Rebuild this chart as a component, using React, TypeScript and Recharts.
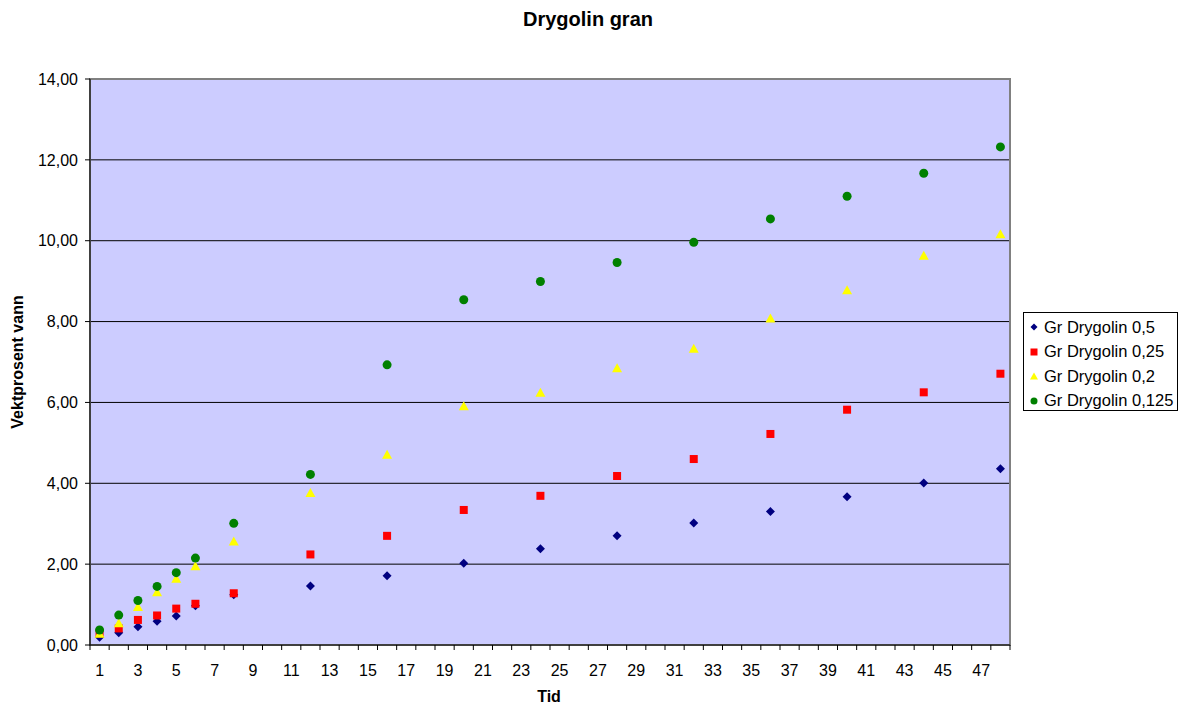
import React from 'react';
import { ScatterChart, Scatter, XAxis, YAxis, CartesianGrid, ReferenceArea } from 'recharts';

// Tid (x) and weight-percent water for each Drygolin concentration
const tid = [1, 2, 3, 4, 5, 6, 8, 12, 16, 20, 24, 28, 32, 36, 40, 44, 48];
const gr05 = [0.19, 0.30, 0.45, 0.59, 0.72, 0.97, 1.24, 1.46, 1.71, 2.02, 2.38, 2.70, 3.02, 3.30, 3.67, 4.01, 4.36];
const gr025 = [0.29, 0.41, 0.62, 0.73, 0.90, 1.02, 1.28, 2.24, 2.70, 3.34, 3.69, 4.18, 4.60, 5.22, 5.82, 6.25, 6.71];
const gr02 = [0.29, 0.55, 0.95, 1.32, 1.65, 1.96, 2.57, 3.77, 4.72, 5.92, 6.25, 6.86, 7.34, 8.09, 8.79, 9.64, 10.17];
const gr0125 = [0.37, 0.74, 1.10, 1.45, 1.79, 2.15, 3.01, 4.22, 6.93, 8.54, 8.99, 9.46, 9.96, 10.54, 11.10, 11.67, 12.32];

const seriesNames = ['Gr Drygolin 0,5', 'Gr Drygolin 0,25', 'Gr Drygolin 0,2', 'Gr Drygolin 0,125'];
const yTicks = [0, 2, 4, 6, 8, 10, 12, 14];
const categoryCount = 48;

const W = 1187;
const H = 709;
const margin = { top: 79, right: 177, bottom: 34, left: 0 };
const yAxisWidth = 90;
const xAxisHeight = 30;
const plotWidth = W - margin.left - margin.right - yAxisWidth;
const step = plotWidth / categoryCount;

const FONT = '"Liberation Sans", Arial, sans-serif';

const toPoints = (vals: number[]) => tid.map((t, i) => ({ x: t, y: vals[i] }));

const Diamond = ({ cx, cy, r = 4.5, fill = '#000080' }: any) => (
  <polygon points={`${cx},${cy - r} ${cx + r},${cy} ${cx},${cy + r} ${cx - r},${cy}`} fill={fill} />
);
const Square = ({ cx, cy, r = 4, fill = '#FF0000' }: any) => (
  <rect x={cx - r} y={cy - r} width={r * 2} height={r * 2} fill={fill} />
);
const Triangle = ({ cx, cy, r = 4.5, fill = '#FFFF00' }: any) => (
  <polygon points={`${cx},${cy - r} ${cx + r + 0.5},${cy + r} ${cx - r - 0.5},${cy + r}`} fill={fill} />
);
const Dot = ({ cx, cy, r = 4.5, fill = '#008000' }: any) => <circle cx={cx} cy={cy} r={r} fill={fill} />;

const series = [
  { name: seriesNames[0], data: toPoints(gr05), color: '#000080', Shape: Diamond },
  { name: seriesNames[1], data: toPoints(gr025), color: '#FF0000', Shape: Square },
  { name: seriesNames[2], data: toPoints(gr02), color: '#FFFF00', Shape: Triangle },
  { name: seriesNames[3], data: toPoints(gr0125), color: '#008000', Shape: Dot },
];

const xTicks = Array.from({ length: categoryCount }, (_, i) => i + 1);

// category axis look: tick marks between categories, label on every odd one
const XTick = (props: any) => {
  const { x, y, payload } = props;
  const v = payload.value;
  return (
    <g>
      <line x1={x - step / 2} x2={x - step / 2} y1={y} y2={y + 5} stroke="#000" />
      {v === categoryCount && <line x1={x + step / 2} x2={x + step / 2} y1={y} y2={y + 5} stroke="#000" />}
      {v % 2 === 1 && (
        <text x={x} y={y + 25} dy="0.35em" textAnchor="middle" fontSize={16} fontFamily={FONT} fill="#000">
          {v}
        </text>
      )}
    </g>
  );
};

const fmt = (v: number) => v.toFixed(2).replace('.', ',');

export default function App() {
  return (
    <div style={{ position: 'absolute', left: 0, top: 0, width: W, height: H, background: '#fff', fontFamily: FONT }}>
      <div style={{ position: 'absolute', left: 0, width: 1176, top: 8, textAlign: 'center', fontSize: 20, fontWeight: 'bold' }}>
        Drygolin gran
      </div>
      <div
        style={{
          position: 'absolute',
          left: 18,
          top: 362,
          transform: 'translate(-50%, -50%) rotate(-90deg)',
          whiteSpace: 'nowrap',
          fontSize: 16,
          fontWeight: 'bold',
        }}
      >
        Vektprosent vann
      </div>
      <div style={{ position: 'absolute', left: 549, top: 697, transform: 'translate(-50%, -50%)', fontSize: 16, fontWeight: 'bold' }}>
        Tid
      </div>

      <ScatterChart width={W} height={H} margin={margin} style={{ position: 'absolute', left: 0, top: 0 }}>
        <CartesianGrid fill="#CCCCFF" stroke="#000" vertical={false} horizontalValues={[2, 4, 6, 8, 10, 12]} />
        <ReferenceArea x1={0.5} x2={categoryCount + 0.5} y1={0} y2={14} fill="none" stroke="#808080" strokeWidth={2} />
        <XAxis
          type="number"
          dataKey="x"
          domain={[0.5, categoryCount + 0.5]}
          ticks={xTicks}
          interval={0}
          height={xAxisHeight}
          tickLine={false}
          tickSize={0}
          tickMargin={0}
          axisLine={{ stroke: '#000' }}
          tick={<XTick />}
        />
        <YAxis
          type="number"
          dataKey="y"
          domain={[0, 14]}
          ticks={yTicks}
          interval={0}
          width={yAxisWidth}
          tickFormatter={fmt}
          tickSize={5}
          tickMargin={7}
          axisLine={{ stroke: '#000' }}
          tickLine={{ stroke: '#000' }}
          tick={{ fill: '#000', fontSize: 16, fontFamily: FONT }}
        />
        {series.map((s) => (
          <Scatter
            key={s.name}
            name={s.name}
            data={s.data}
            fill={s.color}
            isAnimationActive={false}
            shape={(p: any) => <s.Shape cx={p.cx} cy={p.cy} fill={s.color} />}
          />
        ))}
      </ScatterChart>

      <div
        style={{
          position: 'absolute',
          left: 1023,
          top: 312,
          width: 153,
          height: 97,
          border: '1px solid #000',
          background: '#fff',
          boxSizing: 'content-box',
        }}
      >
        {series.map((s, i) => (
          <div key={s.name} style={{ position: 'absolute', left: 0, top: 3 + i * 24.5, height: 22, display: 'flex', alignItems: 'center' }}>
            <svg width={20} height={22} style={{ display: 'block' }}>
              <s.Shape cx={10} cy={11} r={3.5} fill={s.color} />
            </svg>
            <span style={{ fontSize: 16.5, whiteSpace: 'nowrap' }}>{s.name}</span>
          </div>
        ))}
      </div>
    </div>
  );
}
